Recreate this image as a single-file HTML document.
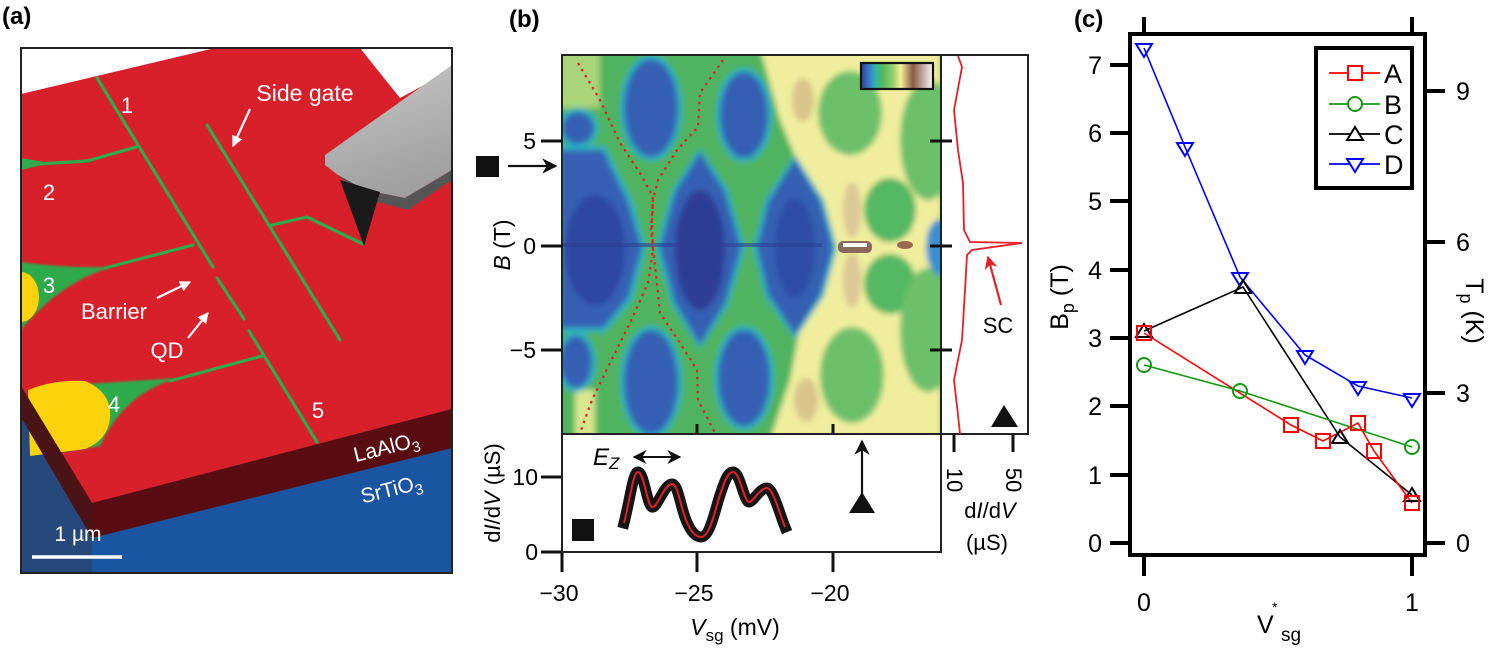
<!DOCTYPE html>
<html><head><meta charset="utf-8"><style>
html,body{margin:0;padding:0;background:#fff;}
svg{display:block;font-family:"Liberation Sans",Arial,sans-serif;}
</style></head><body>
<svg width="1503" height="654" viewBox="0 0 1503 654" xmlns="http://www.w3.org/2000/svg">
<defs>
<clipPath id="ca"><rect x="21" y="48" width="431" height="525"/></clipPath>
<clipPath id="cm"><rect x="562" y="55" width="379" height="379"/></clipPath>
<filter id="bl" x="-5%" y="-5%" width="110%" height="110%"><feGaussianBlur stdDeviation="3"/></filter>
<filter id="bl2"><feGaussianBlur stdDeviation="1"/></filter>
<linearGradient id="cb" x1="0" x2="1" y1="0" y2="0">
<stop offset="0" stop-color="#2b3f9e"/><stop offset="0.12" stop-color="#3a7fc8"/><stop offset="0.2" stop-color="#2fb5a8"/><stop offset="0.3" stop-color="#52b862"/><stop offset="0.45" stop-color="#9ccf6e"/><stop offset="0.55" stop-color="#f3f09a"/><stop offset="0.72" stop-color="#8a5a45"/><stop offset="1" stop-color="#fafafa"/></linearGradient>
<linearGradient id="pg" x1="0" y1="0" x2="0.3" y2="1"><stop offset="0" stop-color="#c8c8c8"/><stop offset="1" stop-color="#a0a0a0"/></linearGradient>
<marker id="ah" viewBox="0 0 10 10" refX="9" refY="5" markerWidth="5" markerHeight="5" orient="auto"><path d="M0,0 L10,5 L0,10 Z" fill="#fff"/></marker>
<marker id="ahk" viewBox="0 0 10 10" refX="9" refY="5" markerWidth="7" markerHeight="7" orient="auto-start-reverse"><path d="M0,0 L10,5 L0,10 L3,5 Z" fill="#111"/></marker>
<marker id="ahr" viewBox="0 0 10 10" refX="9" refY="5" markerWidth="6" markerHeight="6" orient="auto"><path d="M0,0 L10,5 L0,10 L3,5 Z" fill="#e41f26"/></marker>
</defs>

<!-- ===== Panel (a) ===== -->
<text x="2" y="24" font-size="24" font-weight="bold">(a)</text>
<g clip-path="url(#ca)">
<rect x="21" y="48" width="431" height="525" fill="#fff"/>
<rect x="21" y="380" width="431" height="193" fill="#1a55a2"/>
<polygon points="21,410 92,538 92,573 21,573" fill="#26487a"/>
<polygon points="21,94 215,48 360,48 400,98 452,70 452,409 92,503 21,386" fill="#d7202a"/>
<!-- green leads -->
<g stroke="#2faa4c" stroke-width="3.2" fill="none" stroke-linecap="round">
<line x1="97" y1="78" x2="213" y2="267"/>
<line x1="217" y1="278" x2="244" y2="319"/>
<line x1="249" y1="331" x2="317" y2="442"/>
<line x1="207" y1="125" x2="340" y2="340"/>
<polyline points="272,225 307,217 363,244"/>
<polyline points="21,165 87,161 136,147"/>
<polyline points="105,268 193,245"/>
<polyline points="170,381 262,356"/>
</g>
<path d="M21,158 L50,163 L21,170 Z" fill="#2faa4c"/>
<path d="M21,262 Q60,268 112,267 Q60,282 21,330 Z" fill="#2faa4c" filter="url(#bl2)"/>
<ellipse cx="21" cy="297" rx="18" ry="25" fill="#fcd20c"/>
<path d="M50,386 Q120,382 178,378 Q125,392 100,446 L62,452 Z" fill="#2faa4c" filter="url(#bl2)"/>
<path d="M28,390 Q55,379 85,381 Q112,392 110,418 Q108,440 85,449 L30,456 Z" fill="#fcd20c"/>
<polygon points="21,386 92,503 452,409 452,448 92,538 21,417" fill="#5a0d10"/>
<polygon points="21,386 92,503 92,538 21,417" fill="#4a1416"/>
<!-- probe -->
<polygon points="325,155 452,65 452,170 405,198 365,190 338,175 325,165" fill="url(#pg)"/>
<polygon points="338,175 365,190 405,198 452,170 452,180 408,210 362,198" fill="#555"/>
<polygon points="340,180 380,192 364,246" fill="#1a1a1a"/>
<!-- texts -->
<g fill="#fff" font-size="22">
<text x="127" y="113" text-anchor="middle">1</text>
<text x="305" y="101" text-anchor="middle" font-size="23">Side gate</text>
<text x="49" y="200" text-anchor="middle">2</text>
<text x="49" y="293" text-anchor="middle">3</text>
<text x="114" y="319" text-anchor="middle">Barrier</text>
<text x="167" y="358" text-anchor="middle">QD</text>
<text x="114" y="412" text-anchor="middle">4</text>
<text x="318" y="418" text-anchor="middle">5</text>
<text transform="translate(388,454) rotate(-14)" text-anchor="middle" font-size="21">LaAlO<tspan font-size="15" dy="5">3</tspan></text>
<text transform="translate(393,496) rotate(-14)" text-anchor="middle" font-size="21">SrTiO<tspan font-size="15" dy="5">3</tspan></text>
<text x="78" y="541" text-anchor="middle" font-size="21">1 µm</text>
</g>
<line x1="32" y1="557" x2="122" y2="557" stroke="#fff" stroke-width="3.5"/>
<g stroke="#fff" stroke-width="2.2" marker-end="url(#ah)">
<line x1="157" y1="298" x2="190" y2="282"/>
<line x1="188" y1="338" x2="208" y2="313"/>
<line x1="250" y1="109" x2="233" y2="146"/>
</g>
</g>
<rect x="21" y="48" width="431" height="525" fill="none" stroke="#222" stroke-width="2"/>

<!-- ===== Panel (b) ===== -->
<text x="509" y="27" font-size="24" font-weight="bold">(b)</text>
<g clip-path="url(#cm)">
<g filter="url(#bl)">
<rect x="555" y="48" width="400" height="395" fill="#4fb35e"/>
<rect x="555" y="48" width="45" height="60" fill="#a9d47a"/>
<rect x="575" y="390" width="20" height="50" fill="#d8e690"/>
<path d="M760,48 L941,48 L941,440 L770,440 L790,380 L805,300 L800,245 L805,180 L780,120 Z" fill="#f0ee9e"/>
<ellipse cx="803" cy="100" rx="11" ry="22" fill="#d9c48a"/>
<ellipse cx="806" cy="400" rx="12" ry="22" fill="#d9c48a"/>
<ellipse cx="852" cy="210" rx="9" ry="28" fill="#dcc896"/>
<ellipse cx="852" cy="280" rx="9" ry="28" fill="#dcc896"/>
<ellipse cx="890" cy="210" rx="26" ry="32" fill="#55b862"/>
<ellipse cx="890" cy="284" rx="26" ry="30" fill="#55b862"/>
<ellipse cx="850" cy="113" rx="32" ry="42" fill="#6cc06a"/>
<ellipse cx="852" cy="375" rx="32" ry="48" fill="#6cc06a"/>
<ellipse cx="928" cy="140" rx="28" ry="60" fill="#6cc06a"/>
<ellipse cx="928" cy="330" rx="28" ry="62" fill="#6cc06a"/>
<ellipse cx="940" cy="247" rx="14" ry="28" fill="#3a8fd0"/>
<g fill="#27b4c6">
<polygon points="656,248 672,190 700,148 728,190 745,248 728,305 700,349 672,305"/>
<polygon points="753,248 765,200 795,155 824,200 837,248 824,296 795,339 765,296"/>
<polygon points="560,146 605,146 632,200 646,248 632,300 605,332 560,332"/>
<ellipse cx="744" cy="115" rx="28" ry="47"/>
<ellipse cx="651" cy="108" rx="31" ry="53"/>
<ellipse cx="578" cy="128" rx="20" ry="20"/>
<ellipse cx="744" cy="378" rx="30" ry="52"/>
<ellipse cx="651" cy="382" rx="31" ry="56"/>
<ellipse cx="576" cy="362" rx="20" ry="30"/>
</g>
<g fill="#3460b4">
<polygon points="660,248 675,192 700,152 725,192 741,248 725,303 700,345 675,303"/>
<polygon points="757,248 768,202 795,159 821,202 833,248 821,294 795,335 768,294"/>
<polygon points="560,150 603,150 628,202 642,248 628,298 603,328 560,328"/>
<ellipse cx="744" cy="115" rx="24" ry="43"/>
<ellipse cx="651" cy="108" rx="27" ry="49"/>
<ellipse cx="578" cy="128" rx="16" ry="16"/>
<ellipse cx="744" cy="378" rx="26" ry="48"/>
<ellipse cx="651" cy="382" rx="27" ry="52"/>
<ellipse cx="576" cy="362" rx="16" ry="26"/>
</g>
<ellipse cx="700" cy="250" rx="25" ry="60" fill="#2f3c96"/>
<ellipse cx="795" cy="248" rx="20" ry="50" fill="#2f4ea6"/>
<ellipse cx="595" cy="250" rx="30" ry="55" fill="#2f47a0"/>
</g>
<rect x="562" y="243" width="260" height="4" fill="#2c3f92" opacity="0.6"/>
<rect x="838" y="241" width="34" height="12" rx="5" fill="#8a6a5a"/>
<rect x="843" y="243" width="24" height="4" fill="#fff"/>
<ellipse cx="905" cy="245" rx="8" ry="4" fill="#9a6a50"/>
<g fill="none" stroke="#e41f26" stroke-width="2.2" stroke-dasharray="2.5 4.5">
<polyline points="578,63 600,100 620,143 640,173 653,197 652,223 653,250 648,283 630,323 610,363 592,400 580,433"/>
<polyline points="723,60 700,93 698,127 677,150 658,180 653,200 651,230 655,265 660,313 680,343 697,370 698,400 715,433"/>
</g>
<rect x="861" y="63" width="72" height="26" fill="url(#cb)" stroke="#111" stroke-width="2.2"/>
</g>
<rect x="562" y="55" width="379" height="379" fill="none" stroke="#222" stroke-width="2"/>
<rect x="941" y="55" width="87" height="379" fill="none" stroke="#222" stroke-width="2"/>
<polyline points="958,56 962,67 954,110 958,150 963,183 964,230 970,242 1022,243 972,250 967,255 965,290 962,340 954,380 958,415 960,434" fill="none" stroke="#e41f26" stroke-width="1.8"/>
<g stroke="#111" stroke-width="3">
<line x1="930" y1="141" x2="952" y2="141"/>
<line x1="930" y1="246" x2="952" y2="246"/>
<line x1="930" y1="350" x2="952" y2="350"/>
<line x1="954" y1="434" x2="954" y2="452"/>
<line x1="1013" y1="434" x2="1013" y2="452"/>
<line x1="541" y1="141" x2="562" y2="141"/>
<line x1="541" y1="246" x2="562" y2="246"/>
<line x1="541" y1="350" x2="562" y2="350"/>
<line x1="697" y1="424" x2="697" y2="434"/>
<line x1="833" y1="424" x2="833" y2="434"/>
<line x1="541" y1="477" x2="562" y2="477"/>
<line x1="541" y1="552" x2="562" y2="552"/>
<line x1="562" y1="552" x2="562" y2="572"/>
<line x1="697" y1="552" x2="697" y2="572"/>
<line x1="833" y1="552" x2="833" y2="572"/>
</g>
<text x="998" y="333" font-size="22" text-anchor="middle">SC</text>
<line x1="1001" y1="305" x2="988" y2="257" stroke="#e41f26" stroke-width="2.2" marker-end="url(#ahr)"/>
<polygon points="991,427 1004,405 1018,427" fill="#111"/>
<g font-size="22" text-anchor="middle">
<text transform="translate(947,480) rotate(90)">10</text>
<text transform="translate(1006,480) rotate(90)">50</text>
<text x="990" y="518">d<tspan font-style="italic">I</tspan>/d<tspan font-style="italic">V</tspan></text>
<text x="987" y="550">(µS)</text>
</g>
<g font-size="23" text-anchor="end">
<text x="536" y="149">5</text>
<text x="536" y="254">0</text>
<text x="536" y="358">−5</text>
<text x="538" y="485">10</text>
<text x="538" y="560">0</text>
</g>
<text transform="translate(510,245) rotate(-90)" font-size="23" text-anchor="middle"><tspan font-style="italic">B</tspan> (T)</text>
<text transform="translate(500,493) rotate(-90)" font-size="22" text-anchor="middle">d<tspan font-style="italic">I</tspan>/d<tspan font-style="italic">V</tspan> (µS)</text>
<rect x="476" y="156" width="23" height="21" fill="#111"/>
<line x1="508" y1="166" x2="556" y2="166" stroke="#111" stroke-width="2.2" marker-end="url(#ahk)"/>
<rect x="562" y="434" width="379" height="118" fill="none" stroke="#222" stroke-width="2"/>
<path d="M624,523 C630,500 633,472 638,472 C644,472 647,505 652,507 C657,509 664,484 672,484 C678,484 680,505 686,520 C690,530 695,537 701,537 C710,537 715,510 720,495 C725,480 728,472 733,472 C740,472 744,502 749,502 C753,502 760,488 767,488 C773,488 780,515 785,527" fill="none" stroke="#151515" stroke-width="11" stroke-linejoin="round" stroke-linecap="square"/>
<path d="M624,523 C630,500 633,472 638,472 C644,472 647,505 652,507 C657,509 664,484 672,484 C678,484 680,505 686,520 C690,530 695,537 701,537 C710,537 715,510 720,495 C725,480 728,472 733,472 C740,472 744,502 749,502 C753,502 760,488 767,488 C773,488 780,515 785,527" fill="none" stroke="#e41f26" stroke-width="2"/>
<rect x="572" y="519" width="22" height="22" fill="#111"/>
<text x="593" y="465" font-size="24" font-style="italic">E<tspan font-size="17" dy="4">Z</tspan></text>
<line x1="634" y1="457" x2="680" y2="457" stroke="#111" stroke-width="2" marker-start="url(#ahk)" marker-end="url(#ahk)"/>
<line x1="862" y1="494" x2="862" y2="441" stroke="#111" stroke-width="2.2" marker-end="url(#ahk)"/>
<polygon points="849,513 862,492 875,513" fill="#111"/>
<g font-size="23" text-anchor="middle">
<text x="559" y="601">−30</text>
<text x="694" y="601">−25</text>
<text x="830" y="601">−20</text>
<text x="735" y="635"><tspan font-style="italic">V</tspan><tspan font-size="17" dy="6">sg</tspan><tspan dy="-6"> (mV)</tspan></text>
</g>

<!-- ===== Panel (c) ===== -->
<text x="1074" y="27" font-size="24" font-weight="bold">(c)</text>
<rect x="1130" y="34" width="295" height="521" fill="none" stroke="#000" stroke-width="4"/>
<g stroke="#000" stroke-width="4">
<line x1="1110" y1="543" x2="1130" y2="543"/><line x1="1110" y1="475" x2="1130" y2="475"/>
<line x1="1110" y1="406" x2="1130" y2="406"/><line x1="1110" y1="338" x2="1130" y2="338"/>
<line x1="1110" y1="270" x2="1130" y2="270"/><line x1="1110" y1="201" x2="1130" y2="201"/>
<line x1="1110" y1="133" x2="1130" y2="133"/><line x1="1110" y1="65" x2="1130" y2="65"/>
<line x1="1425" y1="543" x2="1445" y2="543"/><line x1="1425" y1="393" x2="1445" y2="393"/>
<line x1="1425" y1="242" x2="1445" y2="242"/><line x1="1425" y1="91" x2="1445" y2="91"/>
<line x1="1144" y1="555" x2="1144" y2="576"/><line x1="1412" y1="555" x2="1412" y2="576"/>
<line x1="1144" y1="17" x2="1144" y2="34"/><line x1="1412" y1="17" x2="1412" y2="34"/>
</g>
<g font-size="25" text-anchor="end">
<text x="1102" y="552">0</text><text x="1102" y="484">1</text><text x="1102" y="415">2</text>
<text x="1102" y="347">3</text><text x="1102" y="279">4</text><text x="1102" y="210">5</text>
<text x="1102" y="142">6</text><text x="1102" y="74">7</text>
</g>
<g font-size="25">
<text x="1456" y="552">0</text><text x="1456" y="402">3</text><text x="1456" y="251">6</text><text x="1456" y="100">9</text>
</g>
<g font-size="25" text-anchor="middle">
<text x="1144" y="611">0</text><text x="1412" y="611">1</text>
</g>
<text x="1257" y="633" font-size="25">V</text>
<text x="1272" y="612" font-size="14">*</text>
<text x="1281" y="641" font-size="19">sg</text>
<text transform="translate(1068,297) rotate(-90)" font-size="25" text-anchor="middle">B<tspan font-size="18" dy="6">p</tspan><tspan dy="-6"> (T)</tspan></text>
<text transform="translate(1466,311) rotate(90)" font-size="25" text-anchor="middle">T<tspan font-size="18" dy="6">p</tspan><tspan dy="-6"> (K)</tspan></text>
<g fill="none" stroke-width="1.6">
<polyline stroke="#0000ff" points="1144,48 1185,147 1240,277 1305,355 1358,386 1412,398"/>
<polyline stroke="#000" points="1144,331 1243,287 1340,437 1412,495"/>
<polyline stroke="#ff0000" points="1144,333 1291,425 1323,441 1358,423 1374,451 1412,503"/>
<polyline stroke="#119911" points="1144,365 1240,391 1412,447"/>
</g>
<g fill="none" stroke-width="2">
<g stroke="#0000ff">
<polygon points="1136,44 1152,44 1144,57"/><polygon points="1177,143 1193,143 1185,156"/>
<polygon points="1232,273 1248,273 1240,286"/><polygon points="1297,351 1313,351 1305,364"/>
<polygon points="1350,382 1366,382 1358,395"/><polygon points="1404,394 1420,394 1412,407"/>
</g>
<g stroke="#000">
<polygon points="1136,337 1152,337 1144,324"/><polygon points="1235,293 1251,293 1243,280"/>
<polygon points="1332,443 1348,443 1340,430"/><polygon points="1404,501 1420,501 1412,488"/>
</g>
<g stroke="#ff0000">
<rect x="1137" y="326" width="14" height="14"/><rect x="1284" y="418" width="14" height="14"/>
<rect x="1316" y="434" width="14" height="14"/><rect x="1351" y="416" width="14" height="14"/>
<rect x="1367" y="444" width="14" height="14"/><rect x="1405" y="496" width="14" height="14"/>
</g>
<g stroke="#119911">
<circle cx="1144" cy="365" r="7"/><circle cx="1240" cy="391" r="7"/><circle cx="1412" cy="447" r="7"/>
</g>
</g>
<rect x="1316" y="48" width="96" height="140" fill="#fff" stroke="#000" stroke-width="4"/>
<g stroke-width="1.8" fill="none">
<line x1="1329" y1="73" x2="1380" y2="73" stroke="#ff0000"/><rect x="1348" y="66" width="14" height="14" stroke="#ff0000" stroke-width="2" fill="#fff"/>
<line x1="1329" y1="104" x2="1380" y2="104" stroke="#119911"/><circle cx="1355" cy="104" r="7" stroke="#119911" stroke-width="2" fill="#fff"/>
<line x1="1329" y1="134" x2="1380" y2="134" stroke="#000"/><polygon points="1347,140 1363,140 1355,127" stroke="#000" stroke-width="2" fill="#fff"/>
<line x1="1329" y1="164" x2="1380" y2="164" stroke="#0000ff"/><polygon points="1347,159 1363,159 1355,172" stroke="#0000ff" stroke-width="2" fill="#fff"/>
</g>
<g font-size="27">
<text x="1384" y="83">A</text><text x="1384" y="114">B</text><text x="1384" y="144">C</text><text x="1384" y="174">D</text>
</g>
</svg>
</body></html>
